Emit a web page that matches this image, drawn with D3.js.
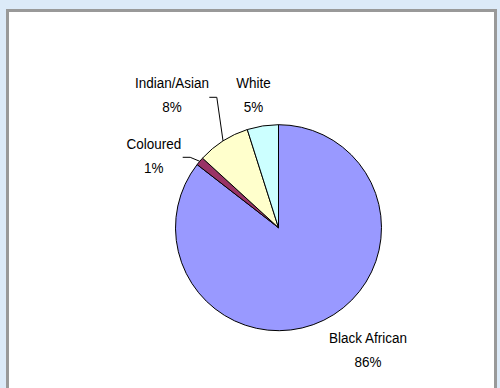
<!DOCTYPE html>
<html>
<script src="https://cdn.jsdelivr.net/npm/d3@7"></script>
<style>
  body { margin: 0; background: #dceaf8; }
  text { font-family: "Liberation Sans", Arial, sans-serif; font-size: 15.5px; fill: #000; }
</style>
<body>
<div id="chart"></div>
<script>
// population groups, clockwise from 12 o'clock
const groups = ["Black African", "Coloured", "Indian/Asian", "White"];
const shares = [85.5, 1.3, 8.3, 4.9];
const pctLabels = ["86%", "1%", "8%", "5%"];
const colours = ["#9999ff", "#993366", "#ffffcc", "#ccffff"];

const width = 500, height = 388;
const cx = 278.5, cy = 227.7, r = 103;

const svg = d3.select("#chart").append("svg")
  .attr("width", width)
  .attr("height", height);

// chart frame
svg.append("rect")
  .attr("x", 7.5).attr("y", 10.5)
  .attr("width", 488).attr("height", 400)
  .attr("fill", "#fff")
  .attr("stroke", "#999")
  .attr("stroke-width", 3);

const pie = d3.pie().sort(null).value(d => d)(shares);
const arc = d3.arc().innerRadius(0).outerRadius(r);

const g = svg.append("g").attr("transform", "translate(" + cx + "," + cy + ")");

g.selectAll("path")
  .data(pie)
  .enter()
  .append("path")
    .attr("d", arc)
    .attr("fill", (d, i) => colours[i])
    .attr("stroke", "#000")
    .attr("stroke-width", 1);

// label positions (relative to pie centre, first baseline) and leader starts
const labelPos = [[89.5, 115.6], [-124.7, -78.7], [-106.5, -139.4], [-25, -139.7]];
const leaders = [null, [-95.8, -70.4], [-69.2, -130.4], null];

function edgePoint(d) {
  const a = (d.startAngle + d.endAngle) / 2;
  return [r * Math.sin(a), -r * Math.cos(a)];
}

pie.forEach((d, i) => {
  const lp = labelPos[i];
  // the source text is a bit condensed
  const t = g.append("text")
    .attr("text-anchor", "middle")
    .attr("transform", "translate(" + lp[0] + "," + lp[1] + ") scale(0.87,1)");
  t.append("tspan").attr("x", 0).attr("y", 0).text(groups[i]);
  t.append("tspan").attr("x", 0).attr("y", 24).text(pctLabels[i]);
  if (leaders[i]) {
    const e = edgePoint(d);
    const s = leaders[i];
    g.append("path")
      .attr("d", d3.line()([[s[0], s[1]], [s[0] + 7.5, s[1]], e]))
      .attr("fill", "none")
      .attr("stroke", "#000")
      .attr("stroke-width", 1);
  }
});
</script>
</body>
</html>
